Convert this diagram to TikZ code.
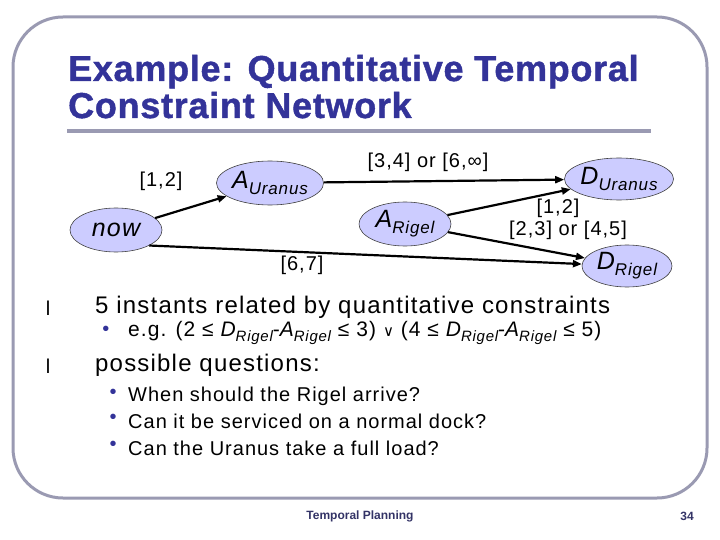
\documentclass[tikz,border=0pt]{standalone}
\usepackage{fontspec}
\setmainfont{Liberation Sans}
\newfontfamily\symf{DejaVu Sans}
\newfontfamily\spaced[LetterSpace=5]{Liberation Sans}
\newfontfamily\titlefont[LetterSpace=2,FakeBold=1.2]{Liberation Sans}
\usetikzlibrary{shapes.geometric,arrows.meta}
\definecolor{titleblue}{HTML}{333399}
\definecolor{framegray}{HTML}{9A9AB2}
\definecolor{nodefill}{HTML}{CCCCFF}
\definecolor{footblue}{HTML}{333366}
\newcommand{\lowsub}[2]{\raisebox{-0.45ex}{\fontsize{#1}{#1}\selectfont #2}}
\begin{document}
\begin{tikzpicture}[x=1pt,y=-1pt,
  event/.style={ellipse,draw=black!75,line width=0.6pt,fill=nodefill,minimum width=92pt,minimum height=44pt,inner sep=0pt,font=\spaced\fontsize{25}{25}\selectfont\itshape},
  arc/.style={line width=2.2pt,-{Triangle[length=9pt,width=7pt]}},
  lbl/.style={font=\spaced\fontsize{20}{20}\selectfont,inner sep=0pt},
  ttl/.style={anchor=base west,inner sep=0pt,text=titleblue,font=\titlefont\bfseries\fontsize{36}{36}\selectfont},
  big/.style={anchor=west,inner sep=0pt,font=\spaced\fontsize{24}{24}\selectfont},
  small/.style={anchor=west,inner sep=0pt,font=\spaced\fontsize{20}{20}\selectfont},
  subdot/.style={anchor=center,inner sep=0pt,text=titleblue,font=\fontsize{20}{20}\selectfont},
  foot/.style={inner sep=0pt,text=footblue,font=\bfseries\fontsize{12}{12}\selectfont}]
\useasboundingbox (0,0) rectangle (720,540);
% frame
\draw[framegray,line width=3pt,rounded corners=50pt] (13,17) rectangle (707,498);
% title
\node[ttl] (t1) at (68,81) {Example: Quantitative Temporal};
\node[ttl] (t2) at (68,118) {Constraint Network};
\draw[framegray,line width=4pt] (67,131) -- (651,131);
% graph nodes
\node[event] (now) at (116,230) {now};
\node[event] (AU) at (270,183) {A\lowsub{17}{Uranus}};
\node[event] (AR) at (405,224) {A\lowsub{17}{Rigel}};
\node[event,minimum width=90pt,minimum height=42pt] (DU) at (619,179) {D\lowsub{17}{Uranus}};
\node[event,minimum width=90pt,minimum height=42pt] (DR) at (627,266) {D\lowsub{17}{Rigel}};
% edges
\draw[arc] (now) -- (AU);
\draw[arc] (AU) -- (DU);
\draw[arc] (AR) -- (DU);
\draw[arc] (AR) -- (DR);
\draw[arc] (now.-25) -- (DR);
% labels
\node[lbl] (l1) at (161,181) {[1,2]};
\node[lbl] (l2) at (428,162) {[3,4] or [6,∞]};
\node[lbl] (l3) at (558,208) {[1,2]};
\node[lbl] (l4) at (568,230) {[2,3] or [4,5]};
\node[lbl] (l5) at (302,265) {[6,7]};
% bullets
\node[anchor=center,inner sep=0pt,font=\fontsize{20}{20}\selectfont] (b1) at (48,308) {l};
\node[big] (t5) at (95,307) {5 instants related by quantitative constraints};
\node[subdot] (s0) at (106,331) {•};
\node[anchor=west,inner sep=0pt,font=\spaced\fontsize{21}{21}\selectfont] (eg) at (128,333) {e.g. (2 ≤ \textit{D\lowsub{15}{Rigel}}-\textit{A\lowsub{15}{Rigel}} ≤ 3) {\symf\fontsize{15}{15}\selectfont ∨} (4 ≤ \textit{D\lowsub{15}{Rigel}}-\textit{A\lowsub{15}{Rigel}} ≤ 5)};
\node[anchor=center,inner sep=0pt,font=\fontsize{20}{20}\selectfont] (b2) at (48,366) {l};
\node[big] (pq) at (95,365) {possible questions:};
\node[subdot] (s1) at (113,394) {•};
\node[small] (q1) at (128,396) {When should the Rigel arrive?};
\node[subdot] (s2) at (113,419) {•};
\node[small] (q2) at (128,421) {Can it be serviced on a normal dock?};
\node[subdot] (s3) at (113,446) {•};
\node[small] (q3) at (128,448) {Can the Uranus take a full load?};
% footer
\node[foot] (f1) at (360,516) {Temporal Planning};
\node[foot] (f2) at (687,516) {34};
\end{tikzpicture}
\end{document}
